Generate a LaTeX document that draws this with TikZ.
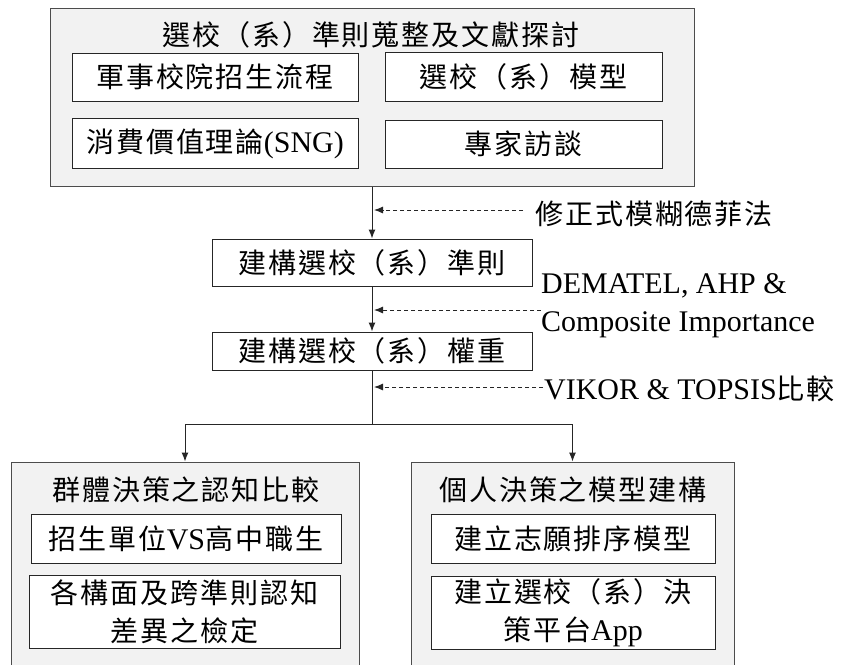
\documentclass[tikz,border=0pt]{standalone}
\usepackage{fontspec}
\setmainfont{Noto Sans CJK TC}[LetterSpace=7]
\newfontfamily\ltnfont{Liberation Serif}[Scale=1.07]
\newcommand\ltn[1]{{\ltnfont #1}}
\usetikzlibrary{arrows.meta}

\begin{document}
\begin{tikzpicture}[x=1pt,y=-1pt,
  every node/.style={font=\fontsize{28}{38}\selectfont, inner sep=0pt},
  outerbox/.style={draw=black!70, fill=black!5, line width=1pt},
  innerbox/.style={draw=black!85, fill=white, line width=1pt},
  flow/.style={draw=black!85, line width=1pt, -{Latex[length=9pt,width=7pt]}},
  hint/.style={draw=black!85, line width=0.9pt, dash pattern=on 4pt off 3pt,
    -{Latex[length=9pt,width=7pt]}},
  ]
\useasboundingbox (0,0) rectangle (845,664);
\clip (0,0) rectangle (845,664);

% literature and criteria collection
\node[outerbox, minimum width=644pt, minimum height=178pt] (src) at (372,97) {};
\node (srctitle) at (371,35) {選校（系）準則蒐整及文獻探討};
\node[innerbox, minimum width=286pt, minimum height=48pt] (proc) at (215,77) {軍事校院招生流程};
\node[innerbox, minimum width=277pt, minimum height=49pt] (model) at (523.5,76.5) {選校（系）模型};
\node[innerbox, minimum width=286pt, minimum height=50pt] (sng) at (215,143.5) {消費價值理論\ltn{(SNG)}};
\node[innerbox, minimum width=277pt, minimum height=48pt] (expert) at (523.5,144) {專家訪談};

% main steps
\node[innerbox, minimum width=320pt, minimum height=47pt] (crit) at (372,262.5) {建構選校（系）準則};
\node[innerbox, minimum width=320pt, minimum height=38pt] (wgt) at (372,351) {建構選校（系）權重};

% methods
\node[anchor=west] (m1) at (535,214) {修正式模糊德菲法};
\node[anchor=west, align=left, font=\ltnfont\fontsize{28}{38}\selectfont] (m2) at (541,306)
  {DEMATEL, AHP \&\\Composite Importance};
\node[anchor=west] (m3) at (544,389) {\ltn{VIKOR \& TOPSIS}比較};

% two branches
\node[outerbox, minimum width=348pt, minimum height=240pt] (grp) at (185,582) {};
\node (grptitle) at (186,490) {群體決策之認知比較};
\node[innerbox, minimum width=310pt, minimum height=49pt] (grpa) at (186,538.5) {招生單位\ltn{VS}高中職生};
\node[innerbox, minimum width=311pt, minimum height=73pt, align=center] (grpb) at (184.5,611.5)
  {各構面及跨準則認知\\差異之檢定};

\node[outerbox, minimum width=323pt, minimum height=240pt] (ind) at (572.5,582) {};
\node (indtitle) at (573,490) {個人決策之模型建構};
\node[innerbox, minimum width=284pt, minimum height=49pt] (inda) at (573,538.5) {建立志願排序模型};
\node[innerbox, minimum width=284pt, minimum height=73pt, align=center] (indb) at (573,612.5)
  {建立選校（系）決\\策平台\ltn{App}};

% connectors
\draw[flow] (src.south) -- (crit.north);
\draw[flow] (crit.south) -- (wgt.north);
\coordinate (fork) at (372,424);
\draw[draw=black!85, line width=1pt] (wgt.south) -- (fork);
\draw[flow] (fork) -| (grp.north);
\draw[flow] (fork) -| (ind.north);

\coordinate (h1) at (523,210);
\coordinate (e1) at (374,210);
\coordinate (h2) at (541,310);
\coordinate (e2) at (374,310);
\coordinate (h3) at (543,387);
\coordinate (e3) at (374,387);
\draw[hint] (h1) -- (e1);
\draw[hint] (h2) -- (e2);
\draw[hint] (h3) -- (e3);
\end{tikzpicture}
\end{document}
